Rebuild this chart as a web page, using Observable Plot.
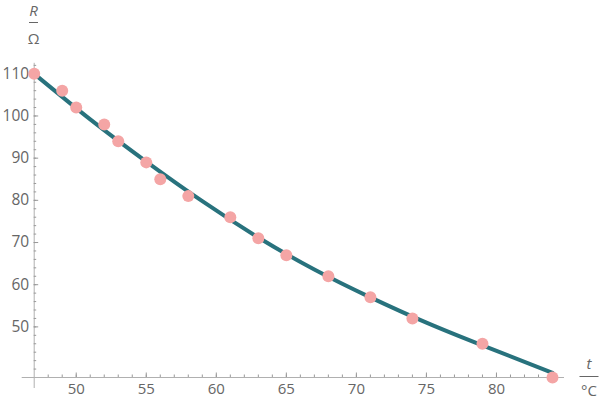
<!DOCTYPE html>
<html><head><meta charset="utf-8">
<script src="https://cdn.jsdelivr.net/npm/d3@7"></script>
<script src="https://cdn.jsdelivr.net/npm/@observablehq/plot@0.6"></script>
<style>body{margin:0;background:#fff} svg{display:block}</style>
</head><body><div id="chart"></div>
<script>
// measured points (t in °C, R in Ω)
const tData = [47, 49, 50, 52, 53, 55, 56, 58, 61, 63, 65, 68, 71, 74, 79, 84];
const rData = [110, 106, 102, 98, 94, 89, 85, 81, 76, 71, 67, 62, 57, 52, 46, 38];
// fitted curve
const fitT = [47, 51, 55, 59, 63, 67, 71, 75, 79, 84];
const fitR = [110.0, 99.2, 89.2, 79.8, 71.2, 63.6, 57.0, 51.0, 45.6, 39.1];
// ticks
const xMajorTicks = [50, 55, 60, 65, 70, 75, 80];
const xMinorTicks = [48, 49, 50, 51, 52, 53, 54, 55, 56, 57, 58, 59, 60, 61, 62, 63, 64, 65, 66, 67, 68, 69, 70, 71, 72, 73, 74, 75, 76, 77, 78, 79, 80, 81, 82, 83, 84];
const yMajorTicks = [50, 60, 70, 80, 90, 100, 110];
const yMinorTicks = [40, 42, 44, 46, 48, 50, 52, 54, 56, 58, 60, 62, 64, 66, 68, 70, 72, 74, 76, 78, 80, 82, 84, 86, 88, 90, 92, 94, 96, 98, 100, 102, 104, 106, 108, 110, 112];
const xDomain = [47, 84];
const yDomain = [38, 110];

const points = tData.map((t, i) => ({t, r: rData[i]}));
const fit = fitT.map((t, i) => ({t, r: fitR[i]}));

const axisGray = "#b0b0b0";
const textGray = "#666666";

const chart = Plot.plot({
  width: 600,
  height: 400,
  marginLeft: 33.7,
  marginRight: 48,
  marginTop: 73.3,
  marginBottom: 23,
  style: {fontFamily: "'Open Sans', 'Liberation Sans', sans-serif", background: "#fff"},
  x: {domain: xDomain},
  y: {domain: yDomain},
  marks: [
    Plot.ruleY([yDomain[0]], {stroke: axisGray, insetLeft: -12, insetRight: -12}),
    Plot.ruleX([xDomain[0]], {stroke: axisGray, insetTop: -10.5, insetBottom: -11}),
    Plot.axisX(xMinorTicks, {tickSize: -2.5, tickFormat: () => "", stroke: "#999", label: null}),
    Plot.axisX(xMajorTicks, {tickSize: -4.5, tickFormat: () => "", stroke: "#999", label: null}),
    Plot.axisX(xMajorTicks, {tickSize: 0, tickPadding: 6, fontSize: 15, color: textGray, label: null}),
    Plot.axisY(yMinorTicks, {tickSize: -2.5, tickFormat: () => "", stroke: "#999", label: null}),
    Plot.axisY(yMajorTicks, {tickSize: -4.5, tickFormat: () => "", stroke: "#999", label: null}),
    Plot.axisY(yMajorTicks, {tickSize: 0, tickPadding: 5, fontSize: 15.5, color: textGray, label: null}),
    Plot.line(fit, {x: "t", y: "r", curve: "natural", stroke: "#28727d", strokeWidth: 4}),
    Plot.dot(points, {x: "t", y: "r", r: 6, fill: "#f4a5a5"})
  ]
});

const svg = d3.select(chart);
function frac(x, top, bottom, lineY, w) {
  const g = svg.append("g").attr("fill", textGray).attr("font-size", 15)
    .attr("font-family", "'Open Sans', 'Liberation Sans', sans-serif").attr("text-anchor", "middle");
  g.append("text").attr("x", x).attr("y", top.y).attr("font-style", "italic").text(top.s);
  g.append("line").attr("x1", x - w / 2).attr("x2", x + w / 2).attr("y1", lineY).attr("y2", lineY)
    .attr("stroke", textGray).attr("stroke-width", 1);
  g.append("text").attr("x", x).attr("y", bottom.y).text(bottom.s);
}
frac(33.5, {s: "R", y: 15.5}, {s: "Ω", y: 43.5}, 22.5, 9);
frac(589, {s: "t", y: 368.5}, {s: "°C", y: 396}, 376.5, 19);

document.getElementById("chart").appendChild(chart);
</script>
</body></html>
